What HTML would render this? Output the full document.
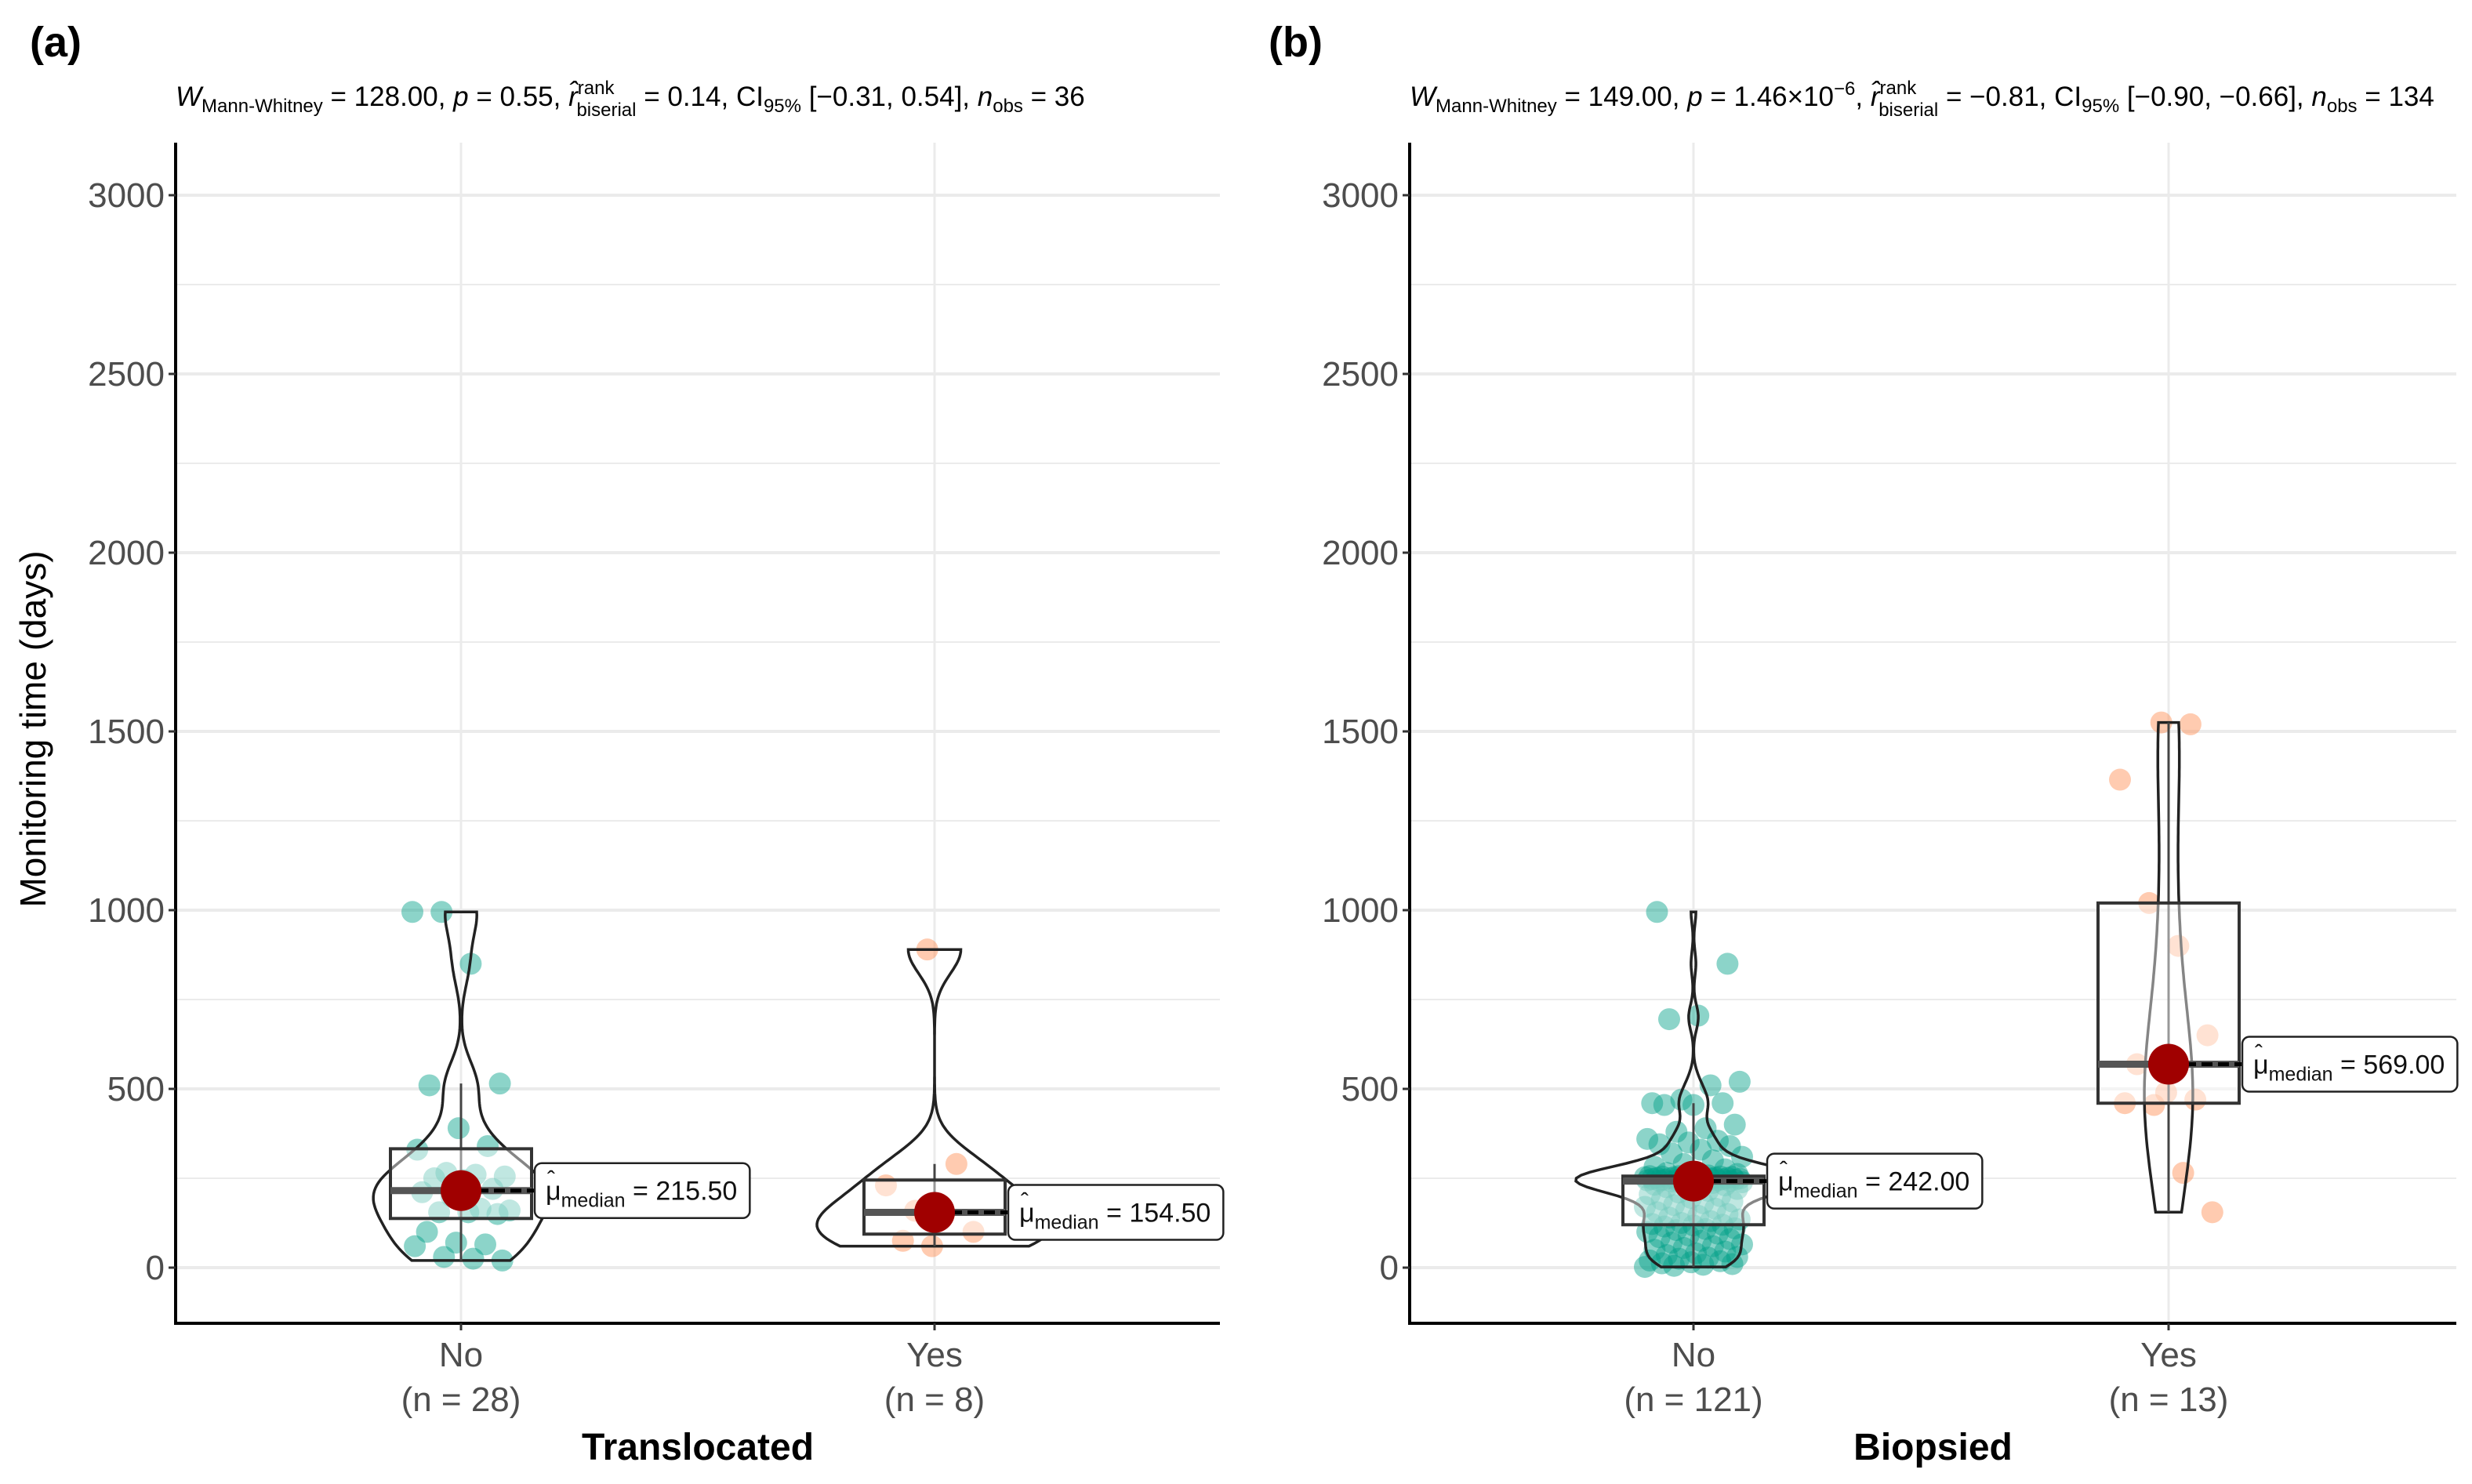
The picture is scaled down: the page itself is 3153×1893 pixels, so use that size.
<!DOCTYPE html>
<html><head><meta charset="utf-8"><style>
html,body{margin:0;padding:0;background:#fff}
svg{display:block;font-family:"Liberation Sans",sans-serif}
</style></head><body>
<svg id="chart" width="3153" height="1893" viewBox="0 0 3153 1893" xmlns="http://www.w3.org/2000/svg">
<rect width="3153" height="1893" fill="#fff"/>
<g id="root"></g>
</svg>
<script>
// ---- data ----
const yTicks = [0, 500, 1000, 1500, 2000, 2500, 3000];
const yMinor = [250, 750, 1250, 1750, 2250, 2750];
const catsA = ["No", "Yes"];
const nLabelsA = ["(n = 28)", "(n = 8)"];
const catsB = ["No", "Yes"];
const nLabelsB = ["(n = 121)", "(n = 13)"];
const translocatedNo = [995,995,850,515,510,390,340,330,265,260,255,250,245,220,211,200,165,160,155,155,150,100,70,65,60,30,25,20];
const translocatedYes = [890,290,230,159,150,100,75,60];
const biopsiedNo = [2,5,8,10,12,15,18,20,25,28,30,35,40,45,50,55,60,65,70,75,80,85,90,95,100,105,108,110,115,118,
 120,122,125,130,135,140,145,150,155,160,165,170,175,180,185,190,195,200,205,210,215,220,225,228,230,232,235,237,239,241,
 242,
 242,243,243,244,244,245,245,246,246,247,247,248,248,249,249,250,250,251,251,252,252,253,253,254,254,255,255,255,256,256,
 258,262,265,268,275,282,290,300,310,320,330,340,345,350,355,360,380,390,400,455,455,460,460,470,510,520,695,705,850,995];
const biopsiedYes = [1525,1520,1365,1020,900,650,569,490,470,460,455,265,155];

// ---- layout ----
const NS = "http://www.w3.org/2000/svg";
const root = document.getElementById('root');
function el(tag, attrs, parent, text){
  const e = document.createElementNS(NS, tag);
  for (const k in attrs) e.setAttribute(k, attrs[k]);
  if (text !== undefined) e.textContent = text;
  (parent || root).appendChild(e);
  return e;
}
const Y0 = 1617, K = (1617 - 249) / 3000;
function yScale(v){ return Y0 - v * K; }

function quantile(sorted, p){
  const pos = (sorted.length - 1) * p, lo = Math.floor(pos), hi = Math.ceil(pos);
  return sorted[lo] + (sorted[hi] - sorted[lo]) * (pos - lo);
}
function sd(a){ const m = a.reduce((s,v)=>s+v,0)/a.length; return Math.sqrt(a.reduce((s,v)=>s+(v-m)*(v-m),0)/(a.length-1)); }
function kde(vals, lo, hi, steps){
  const s = vals.slice().sort((a,b)=>a-b);
  const iqr = quantile(s,0.75) - quantile(s,0.25);
  let bw = 0.9 * Math.min(sd(s), iqr/1.34) * Math.pow(s.length, -0.2);
  if (!(bw > 0)) bw = sd(s) || 1;
  const out = [];
  for (let i = 0; i <= steps; i++){
    const y = lo + (hi - lo) * i / steps;
    let d = 0;
    for (const v of s){ const z = (y - v) / bw; d += Math.exp(-0.5*z*z); }
    out.push([y, d / (s.length * bw * Math.sqrt(2*Math.PI))]);
  }
  return out;
}

function drawPanel(cfg){
  const g = el('g', {});
  
  
  const {x0, x1, top, bottom} = cfg;
  const xPos = i => cfg.cx[i];
  yMinor.forEach(v => {
    const l = el('line', {x1:x0, x2:x1, y1:yScale(v), y2:yScale(v), stroke:'#ebebeb', 'stroke-width':2}, g);
    
    
  });
  yTicks.forEach(v => {
    const l = el('line', {x1:x0, x2:x1, y1:yScale(v), y2:yScale(v), stroke:'#ebebeb', 'stroke-width':4}, g);
    
    
  });
  cfg.cats.forEach((c, i) => {
    const l = el('line', {x1:xPos(i), x2:xPos(i), y1:top, y2:bottom, stroke:'#ebebeb', 'stroke-width':3}, g);
    
    
  });
  const dens = cfg.groups.map(vals => {
    const s = vals.slice().sort((a,b)=>a-b);
    return kde(vals, s[0], s[s.length-1], 120);
  });
  let maxD = 0; dens.forEach(d => d.forEach(p => { if (p[1] > maxD) maxD = p[1]; }));
  cfg.groups.forEach((vals, gi) => {
    const cx = xPos(gi);
    const col = cfg.colors[gi];
    vals.forEach((v, i) => {
      const j = (((i * 53 + gi * 17) % 41) / 40 - 0.5) * 2 * 62;
      const c = el('circle', {cx: cx + j, cy: yScale(v), r: 14, fill: col, 'fill-opacity': 0.45}, g);
      
      
    });
    const d = dens[gi];
    let pts = d.map(p => [cx + p[1]/maxD*150, yScale(p[0])]);
    let left = d.slice().reverse().map(p => [cx - p[1]/maxD*150, yScale(p[0])]);
    const path = 'M' + pts.concat(left).map(p => p[0].toFixed(1)+','+p[1].toFixed(1)).join(' L') + ' Z';
    const vp = el('path', {d: path, fill:'none', stroke:'#222', 'stroke-width':3.5}, g);
    
    
    const s = vals.slice().sort((a,b)=>a-b);
    const q1 = quantile(s,0.25), med = quantile(s,0.5), q3 = quantile(s,0.75);
    const iqr = q3 - q1;
    const wHi = Math.max(...s.filter(v => v <= q3 + 1.5*iqr));
    const wLo = Math.min(...s.filter(v => v >= q1 - 1.5*iqr));
    const bw = 90;
    const wl = el('line', {x1:cx, x2:cx, y1:yScale(wHi), y2:yScale(wLo), stroke:'#444', 'stroke-width':3}, g);
    
    
    const br = el('rect', {x:cx-bw, y:yScale(q3), width:2*bw, height:yScale(q1)-yScale(q3), fill:'#fff', 'fill-opacity':0.45, stroke:'#333', 'stroke-width':4}, g);
    
    
    const ml = el('line', {x1:cx-bw, x2:cx+bw, y1:yScale(med), y2:yScale(med), stroke:'#555', 'stroke-width':9}, g);
    
    
    const dl = el('line', {x1:cx, x2:cx+bw+4, y1:yScale(med), y2:yScale(med), stroke:'#000', 'stroke-width':5, 'stroke-dasharray':'14,7'}, g);
    
    
    const dot = el('circle', {cx:cx, cy:yScale(med), r:26, fill:'#a00000'}, g);
    
    
    const lx = cx + bw + 4, ly = yScale(med);
    const lg = el('g', {}, g);
    
    
    const lr = el('rect', {x:lx, y:ly-35, width:300, height:70, rx:9, fill:'#fff', stroke:'#222', 'stroke-width':2.5}, lg);
    el('text', {x:lx+16, y:ly-4, 'font-size':30, fill:'#111'}, lg, 'ˆ');
    const t = el('text', {x:lx+14, y:ly+12, 'font-size':34, fill:'#111'}, lg);
    el('tspan', {}, t, 'μ');
    el('tspan', {'font-size':25, dy:9}, t, 'median');
    el('tspan', {dy:-9}, t, ' = ' + med.toFixed(2));
    const w = t.getComputedTextLength ? t.getComputedTextLength() : 270;
    lr.setAttribute('width', w + 30);
  });
  const ya = el('line', {x1:x0, x2:x0, y1:top, y2:bottom, stroke:'#000', 'stroke-width':4}, g);
  
  
  const xa = el('line', {x1:x0-2, x2:x1, y1:bottom, y2:bottom, stroke:'#000', 'stroke-width':4}, g);
  
  
  yTicks.forEach(v => {
    el('line', {x1:x0-9, x2:x0, y1:yScale(v), y2:yScale(v), stroke:'#333', 'stroke-width':3}, g);
    const tl = el('text', {x:x0-14, y:yScale(v)+15, 'font-size':44, fill:'#4d4d4d', 'text-anchor':'end'}, g, String(v));
    
    
  });
  cfg.cats.forEach((c, i) => {
    el('line', {x1:xPos(i), x2:xPos(i), y1:bottom, y2:bottom+9, stroke:'#333', 'stroke-width':3}, g);
    const t1 = el('text', {x:xPos(i), y:1743, 'font-size':44, fill:'#4d4d4d', 'text-anchor':'middle'}, g, c);
    
    
    const t2 = el('text', {x:xPos(i), y:1800, 'font-size':44, fill:'#4d4d4d', 'text-anchor':'middle'}, g, cfg.nLabels[i]);
    
    
  });
  const xt = el('text', {x:(x0+x1)/2, y:1862, 'font-size':48, 'font-weight':'bold', fill:'#000', 'text-anchor':'middle'}, g, cfg.xTitle);
  
  
  const pl = el('text', {x:cfg.tagX, y:72, 'font-size':54, 'font-weight':'bold', fill:'#000'}, g, cfg.tag);
  
  
  const st = el('text', {x:x0, y:135, 'font-size':35, fill:'#000'}, g);
  
  
  el('tspan', {'font-style':'italic'}, st, 'W');
  el('tspan', {'font-size':24, dy:8}, st, 'Mann-Whitney');
  el('tspan', {dy:-8}, st, ' = ' + cfg.W + ', ');
  el('tspan', {'font-style':'italic'}, st, 'p');
  el('tspan', {}, st, ' = ' + cfg.p);
  if (cfg.pExp) el('tspan', {'font-size':24, dy:-14}, st, cfg.pExp);
  el('tspan', {dy: cfg.pExp ? 14 : 0}, st, ', ');
  el('tspan', {'font-style':'italic'}, st, 'r̂');
  el('tspan', {'font-size':24, dy:-15}, st, 'rank');
  el('tspan', {'font-size':24, dx:-48, dy:28}, st, 'biserial');
  el('tspan', {dy:-13}, st, ' = ' + cfg.r + ', CI');
  el('tspan', {'font-size':24, dy:8}, st, '95%');
  el('tspan', {dy:-8}, st, ' ' + cfg.ci + ', ');
  el('tspan', {'font-style':'italic'}, st, 'n');
  el('tspan', {'font-size':24, dy:8}, st, 'obs');
  el('tspan', {dy:-8}, st, ' = ' + cfg.n);
}

drawPanel({name:'panel-a', tag:'(a)', tagX:38, x0:224, x1:1556, top:182, bottom:1688, cx:[588,1192],
  cats:catsA, nLabels:nLabelsA, groups:[translocatedNo, translocatedYes], colors:['#00a087','#ff8c50'],
  xTitle:'Translocated', W:'128.00', p:'0.55', r:'0.14', ci:'[−0.31, 0.54]', n:'36'});
drawPanel({name:'panel-b', tag:'(b)', tagX:1618, x0:1798, x1:3133, top:182, bottom:1688, cx:[2160,2766],
  cats:catsB, nLabels:nLabelsB, groups:[biopsiedNo, biopsiedYes], colors:['#00a087','#ff8c50'],
  xTitle:'Biopsied', W:'149.00', p:'1.46×10', pExp:'−6', r:'−0.81', ci:'[−0.90, −0.66]', n:'134'});

const yt = el('text', {x:0, y:0, 'font-size':46, fill:'#000', 'text-anchor':'middle', transform:'translate(58,930) rotate(-90)'}, root, 'Monitoring time (days)');


</script>
</body></html>
